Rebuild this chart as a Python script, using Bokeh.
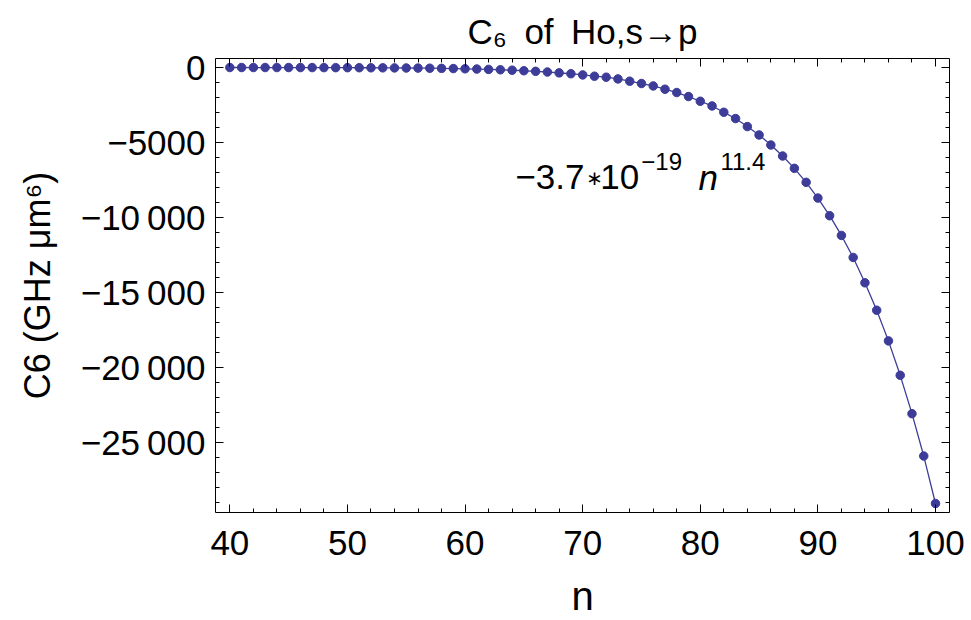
from bokeh.plotting import figure
from bokeh.models import Range1d, SingleIntervalTicker, LinearAxis, Label, ColumnDataSource, Title
from bokeh.embed import file_html
from bokeh.resources import INLINE

n_values = list(range(40, 101))
c6_values = [
    -1, -1, -2, -2, -3, -4, -5, -6, -8, -10,
    -12, -15, -18, -22, -27, -33, -40, -48, -58, -71,
    -86, -103, -125, -150, -179, -216, -254, -301, -358, -415,
    -494, -580, -647, -761, -914, -1068, -1228, -1448, -1669, -1936,
    -2250, -2563, -2984, -3404, -3938, -4499, -5166, -5900, -6722, -7656,
    -8704, -9879, -11194, -12662, -14351, -16180, -18223, -20519, -23075, -25899,
    -29063,
]
y_tick_values = [0, -5000, -10000, -15000, -20000, -25000]
y_tick_labels = ["0", "\u22125000", "\u221210\u2009000", "\u221215\u2009000", "\u221220\u2009000", "\u221225\u2009000"]

FONT = "Liberation Sans"
BLUE = "#3D3D99"

title = Title(text="C\u2086\u2002of\u2002Ho,s\u2192p", align="center", text_font=FONT,
              text_font_size="35px", text_font_style="normal", text_color="black",
              standoff=16, offset=9)

p = figure(width=971, height=620, output_backend="svg", toolbar_location=None,
           x_range=Range1d(38.78, 101.19), y_range=Range1d(-29663, 600),
           min_border_left=215, min_border_right=22, min_border_top=58, min_border_bottom=108,
           x_axis_label="n", y_axis_label="C6 (GHz \u03bcm\u2076)", title=title)
p.grid.visible = False
p.outline_line_color = None
p.background_fill_color = "white"
p.border_fill_color = "white"

src = ColumnDataSource(dict(n=n_values, c6=c6_values))
p.line("n", "c6", source=src, line_color=BLUE, line_width=1.3)
p.scatter("n", "c6", source=src, size=8.5, fill_color=BLUE, line_color=BLUE)

def style_axis(ax, labels=True):
    ax.axis_line_color = "black"
    ax.axis_line_width = 1
    ax.major_tick_in = 8
    ax.major_tick_out = 0
    ax.minor_tick_in = 4
    ax.minor_tick_out = 0
    ax.major_tick_line_color = "black"
    ax.minor_tick_line_color = "black"
    if labels:
        ax.major_label_text_font = FONT
        ax.major_label_text_font_size = "35px"
        ax.major_label_text_color = "black"
        ax.axis_label_text_font = FONT
        ax.axis_label_text_font_style = "normal"
        ax.axis_label_text_color = "black"
    else:
        ax.major_label_text_font_size = "0px"
        ax.major_label_standoff = 0

xa = p.xaxis[0]
xa.ticker = SingleIntervalTicker(interval=10, num_minor_ticks=5)
style_axis(xa)
xa.major_label_standoff = 18
xa.axis_label_text_font_size = "40px"
xa.axis_label_standoff = 16

ya = p.yaxis[0]
ya.ticker = SingleIntervalTicker(interval=5000, num_minor_ticks=5)
style_axis(ya)
ya.major_label_standoff = 10
ya.major_label_overrides = {v: s for v, s in zip(y_tick_values, y_tick_labels)}
ya.axis_label_text_font_size = "36px"
ya.axis_label_standoff = 20

top = LinearAxis(ticker=SingleIntervalTicker(interval=10, num_minor_ticks=5))
style_axis(top, labels=False)
p.add_layout(top, "above")
right = LinearAxis(ticker=SingleIntervalTicker(interval=5000, num_minor_ticks=5))
style_axis(right, labels=False)
p.add_layout(right, "right")

def px_x(px):
    return 40 + (px - 229.7) / 11.755

def px_y(py):
    return -(py - 67.3) * 66.75

def lab(text, px, py, size, style="normal", font=FONT):
    p.add_layout(Label(x=px_x(px), y=px_y(py), text=text, text_font=font,
                       text_font_size=size, text_font_style=style, text_color="black",
                       text_align="left", text_baseline="alphabetic"))

# fit annotation
lab("\u22123.7", 515, 177, "35px")
lab("\u2217", 586, 178, "20px", font="DejaVu Sans")
lab("10", 600, 177, "35px")
lab("\u221219", 641, 161, "24px")
lab("n", 698, 177, "35px", "italic")
lab("11.4", 720, 161, "24px")

open("out.html", "w").write(file_html(p, INLINE))
